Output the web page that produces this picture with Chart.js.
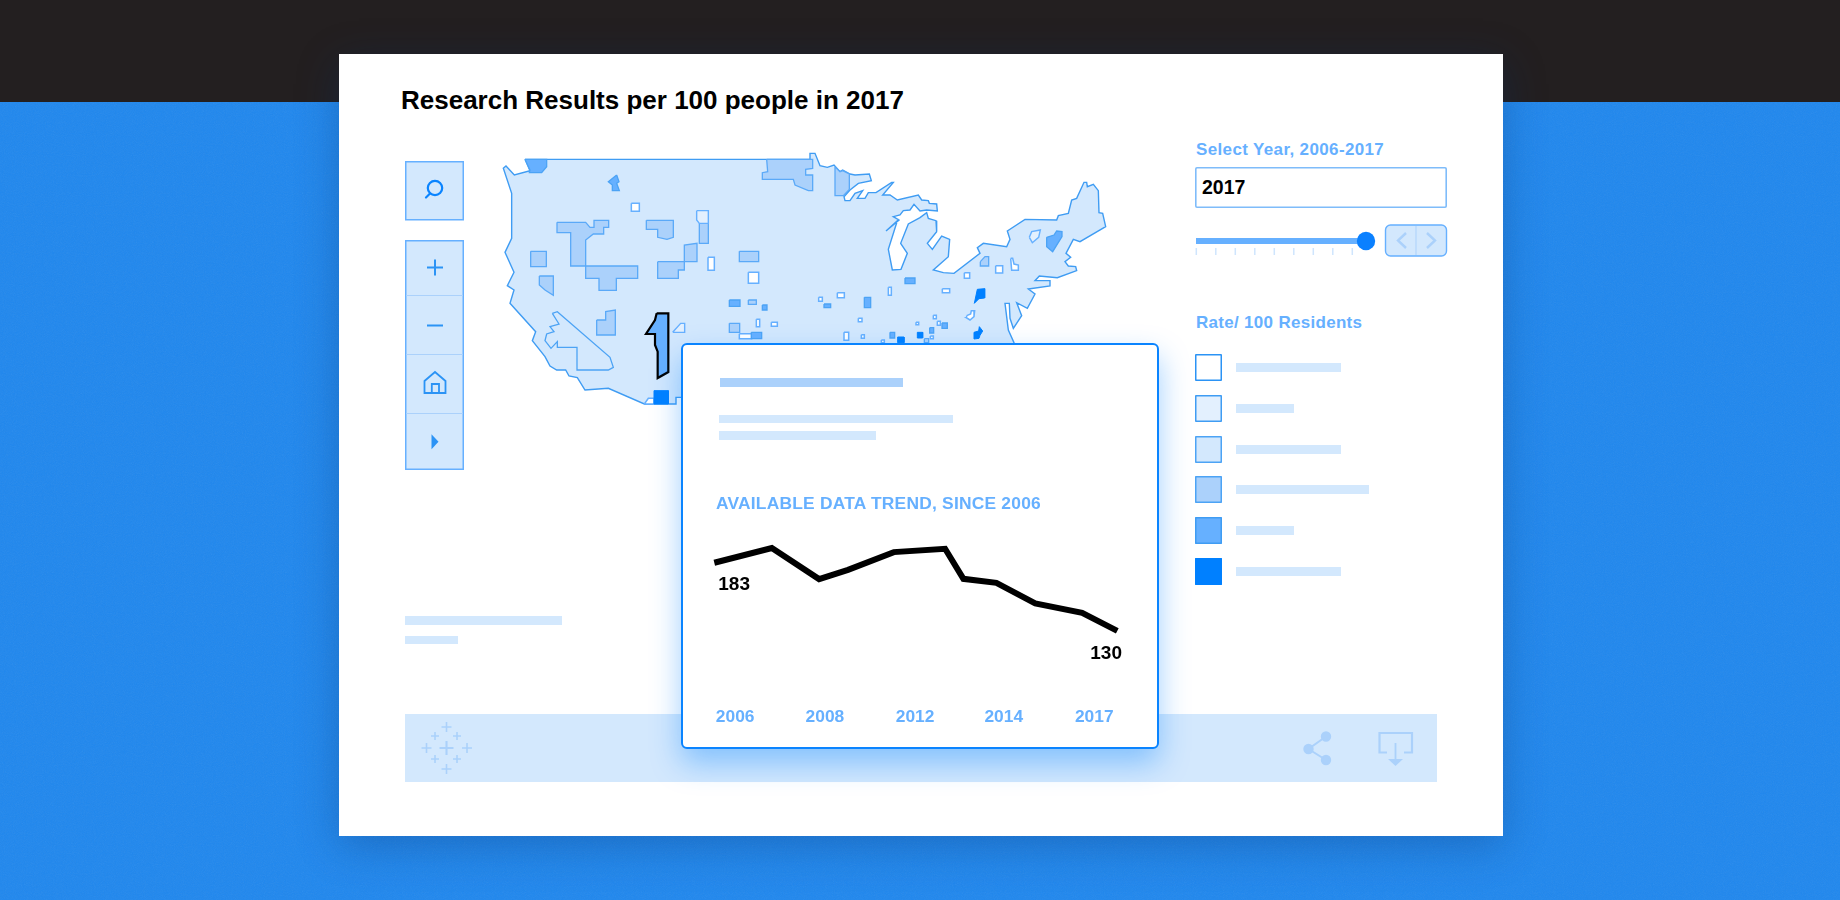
<!DOCTYPE html>
<html><head><meta charset="utf-8">
<script src="https://cdn.jsdelivr.net/npm/chart.js@4"></script>
<style>
html,body{margin:0;padding:0;width:1840px;height:900px;overflow:hidden;background:#1f87ee;font-family:"Liberation Sans",Arial,sans-serif;}
.abs{position:absolute;}
#bgnoise{left:0;top:0;width:1840px;height:900px;opacity:.09;}
#top{left:0;top:0;width:1840px;height:102px;background:#231f20;}
#card{left:339px;top:54px;width:1164px;height:782px;background:#fff;box-shadow:0 10px 40px rgba(10,50,110,.32);}
.t{position:absolute;white-space:nowrap;font-weight:700;line-height:1;}
.lb{color:#66b0ff;}
.bar{position:absolute;background:#d3e8fd;}
#popup{left:681px;top:342.5px;width:474px;height:402px;background:#fff;border:2px solid #0a84ff;border-radius:6px;box-shadow:0 14px 30px rgba(0,128,255,.38);z-index:5;}
canvas{display:block;}
</style></head><body>
<svg class="abs" id="bgnoise"><filter id="n"><feTurbulence type="fractalNoise" baseFrequency="1.1" numOctaves="2"/><feColorMatrix type="saturate" values="0"/></filter><rect width="1840" height="900" filter="url(#n)"/></svg>
<div class="abs" id="top"></div>
<div class="abs" id="card"></div>

<div class="t abs" style="left:401px;top:87px;font-size:26px;color:#000;" >Research Results per 100 people in 2017</div>

<svg class="abs" style="left:405px;top:161px;" width="60" height="310" viewBox="0 0 60 310">
 <g fill="#d3e8fd" stroke="#66b0ff" stroke-width="1.5"><rect x=".75" y=".75" width="57.5" height="58"/><rect x=".75" y="79.75" width="57.5" height="228.5"/></g>
 <g stroke="#abd1fb" stroke-width="1"><path d="M1 134.5H58M1 193.5H58M1 252.5H58"/></g>
 <circle cx="30" cy="27" r="7.2" fill="none" stroke="#0a84ff" stroke-width="2.2"/><path d="M25 32.5L21 36.5" stroke="#0a84ff" stroke-width="2.2" stroke-linecap="round"/>
 <path d="M22 106.5H38M30 98.5V114.5M22 164.5H38" stroke="#2b93f5" stroke-width="2" fill="none"/>
 <path d="M19.5 232V220L30 211L40.5 220V232ZM26.8 232V223H34V232" fill="none" stroke="#2b93f5" stroke-width="1.8"/>
 <path d="M26.5 273.3L33.5 280.8L26.5 288.3Z" fill="#2b93f5"/>
</svg>

<canvas id="map" class="abs" style="left:480px;top:140px;"></canvas>

<div class="bar" style="left:405px;top:616px;width:157px;height:9px"></div>
<div class="bar" style="left:405px;top:636px;width:53px;height:8px"></div>

<div class="t lb abs" style="left:1196px;top:141px;font-size:17px;letter-spacing:.36px;">Select Year, 2006-2017</div>
<div class="abs" style="left:1195px;top:167px;width:252px;height:41px;background:#fff;box-shadow:inset 0 0 0 1.6px #7fbcfa;border-radius:2px;"></div>
<div class="t abs" style="left:1202px;top:178px;font-size:19.5px;color:#000;">2017</div>
<svg class="abs" style="left:1190px;top:220px;" width="262" height="42">
 <rect x="6" y="18" width="170" height="6" fill="#66b0ff"/>
 <circle cx="176" cy="21" r="9.2" fill="#0a80ff"/>
 <g stroke="#cfe5fd" stroke-width="1.5"><path id="sliderTicks" d=""/></g>
 <rect x="195.5" y="5" width="61" height="31" rx="5" fill="#d3e8fd" stroke="#66b0ff" stroke-width="1.4"/>
 <path d="M226 6V35" stroke="#abd1fb"/>
 <path d="M216 13L208 20.5L216 28M237 13L245 20.5L237 28" fill="none" stroke="#abd1fb" stroke-width="2.4"/>
</svg>
<div class="t lb abs" style="left:1196px;top:314px;font-size:17px;letter-spacing:.3px;">Rate/ 100 Residents</div>
<div id="legend"></div>

<div class="bar abs" style="left:405px;top:714px;width:1032px;height:68px;"></div>
<svg class="abs" style="left:405px;top:714px;" width="1032" height="68">
 <g stroke="#abd1fb" fill="none" stroke-width="1.7" id="tabLogo"></g>
 <g stroke="#abd1fb" fill="#abd1fb" stroke-width="2">
  <path d="M921 22.5L903.5 35L921 46" fill="none"/><circle cx="921" cy="22.5" r="4.2"/><circle cx="903.5" cy="35" r="4.2"/><circle cx="921" cy="46" r="4.2"/>
 </g>
 <path d="M982 38.5H974.5V19H1007V38.5H999" fill="none" stroke="#abd1fb" stroke-width="2.2"/>
 <path d="M990.5 29V46" stroke="#abd1fb" stroke-width="1.8"/><path d="M983 45H998L990.5 52Z" fill="#abd1fb"/>
</svg>

<div class="abs" id="popup"></div>
<div class="bar" style="z-index:6;left:720px;top:378px;width:183px;height:9px;background:#abd1fb"></div>
<div class="bar" style="z-index:6;left:719px;top:415px;width:234px;height:8px"></div>
<div class="bar" style="z-index:6;left:719px;top:431px;width:157px;height:9px"></div>
<div class="t lb abs" style="z-index:6;left:716px;top:495px;font-size:17.4px;letter-spacing:.22px;">AVAILABLE DATA TREND, SINCE 2006</div>
<canvas id="trend" class="abs" style="left:690px;top:530px;z-index:6;"></canvas>

<script>
// ---- trend line data ----
const trendYears = [2006, 2007.57, 2008.86, 2009.65, 2010.9, 2012.3, 2012.8, 2013.7, 2014.76, 2016.04, 2017];
const trendValues = [183, 194.5, 170.3, 177.5, 191.3, 193.9, 170.5, 167.4, 151.4, 144, 130];
const trendTickLabels = ["2006", "2008", "2012", "2014", "2017"];
const trendTickSlots = [2006.57, 2009.02, 2011.48, 2013.9, 2016.37];

// ---- legend ----
const legendShades = ["#ffffff", "#e3f0fe", "#d3e8fd", "#abd1fb", "#66b0ff", "#0080ff"];
const legendBorders = ["#2b93f5", "#3f9cf3", "#4ca3f5", "#4ca3f5", "#3f9cf3", "#0080ff"];
const legendBarWidths = [105, 58, 105, 133, 58, 105];

// ---- map geometry (map units; eastern arrays use their own origin, see toEast) ----
const EAST_OFFSET = 915;
const outlineWestNorth = [[90,28]];
const outlineEast = [[30,28],[30,10],[45,10],[60,47],[82,52],[102,45],[120,65],[128,60],[150,72],[165,75],[208,72],[214,92],[175,100],[150,120],[132,140],[135,152],[150,152],[165,130],[188,122],[172,145],[195,145],[205,128],[228,128],[275,97],[280,97],[248,135],[270,135],[292,150],[355,135],[365,150],[385,152],[388,160],[410,162],[412,183],[380,180],[360,183],[342,163],[330,180],[310,182],[300,195],[280,200],[297,210],[258,243],[292,212],[265,298],[277,360],[303,358],[322,310],[302,280],[325,222],[360,203],[380,188],[385,205],[408,212],[410,245],[382,280],[397,298],[425,258],[449,268],[445,320],[400,360],[430,368],[462,370],[540,310],[532,293],[550,280],[620,290],[630,268],[622,243],[675,208],[770,210],[775,197],[805,190],[815,150],[830,145],[852,97],[860,97],[862,110],[880,103],[895,122],[897,188],[908,190],[917,230],[840,275],[820,268],[798,310],[812,322],[795,335],[805,348],[827,350],[830,362],[772,383],[718,378],[705,392],[750,392],[750,408],[685,417],[705,432],[682,475],[650,458],[665,497],[640,535],[630,505],[628,460],[615,460],[625,540],[642,578],[642,700]];
const outlineWestSouth = [[580,700],[560,742],[543,742],[543,762],[448,762],[340,715],[270,720],[247,683],[222,678],[212,660],[185,660],[165,648],[150,620],[112,572],[122,545],[45,460],[57,420],[37,407],[57,367],[30,307],[50,265],[50,130],[25,55],[33,48],[58,75],[105,62],[90,28]];
const interiorShape = [[172,490],[192,522],[165,530],[177,545],[155,552],[150,572],[168,595],[187,575],[187,592],[246,592],[246,660],[340,660],[355,652],[345,622],[187,485]];

const whiteWest = [[[409,160],[433,184]],[[639,322],[658,361]],[[760,367],[791,400]],[[733,551],[770,566]],[[784,508],[794,530]],[[829,517],[847,529]],[[448,762],[460,745],[477,745],[477,762]]];
const whiteEast = [[[112,428],[133,443]],[[56,442],[67,454]],[[265,412],[274,436]],[[427,416],[449,428]],[[493,368],[509,385]],[[587,347],[608,369]],[[175,505],[186,515]],[[132,547],[146,571]],[[184,554],[193,565]],[[244,570],[253,578]],[[348,517],[356,524]],[[400,496],[409,506]],[[412,514],[421,526]],[[391,558],[400,566]],
 [[632,325],[638,325],[642,342],[655,345],[655,361],[635,361]],
 [[500,497],[512,492],[514,482],[524,482],[522,500],[510,510],[499,503]]];
const paleWest = [[[605,182],[640,182],[640,220],[613,220],[605,210]],[[533,547],[557,520],[569,520],[569,547]]];
const paleEast = [[[688,262],[695,245],[721,240],[716,262],[697,278]]];
const midWest = [
 [[186,217],[272,217],[285,232],[297,232],[297,211],[341,211],[341,232],[326,232],[326,252],[295,252],[272,270],[272,348],[227,348],[227,248],[186,248]],
 [[272,348],[428,348],[428,385],[364,385],[364,421],[312,421],[312,385],[272,385]],
 [[454,211],[535,211],[535,262],[516,268],[488,262],[488,238],[454,238]],
 [[613,220],[640,220],[640,280],[613,280]],
 [[488,335],[568,335],[568,285],[606,280],[606,335],[568,335],[568,360],[550,360],[550,385],[488,385]],
 [[107,304],[154,350]],
 [[133,378],[175,378],[175,436],[150,420],[133,405]],
 [[733,304],[791,335]],
 [[305,510],[332,510],[332,485],[361,480],[361,555],[305,555]],
 [[815,28],[953,28],[953,55],[932,58],[932,75],[953,75],[953,122],[940,122],[900,105],[895,88],[802,88],[802,68],[818,65]],
 [[760,450],[784,463]],[[703,520],[734,547]]
];
const midEast = [
 [[105,50],[120,65],[128,62],[148,72],[148,118],[130,137],[105,137]],
 [[373,566],[386,578]],
 [[541,335],[555,320],[566,320],[566,348],[541,348]]
];
const strongWest = [
 [[90,28],[155,28],[155,50],[140,68],[103,68],[105,60]],
 [[365,75],[372,95],[365,100],[373,122],[353,122],[352,105],[340,95]],
 [[703,450],[735,469]],[[802,465],[816,480]],[[769,547],[800,566]]
];
const strongEast = [
 [[315,384],[345,401]],[[193,442],[212,473]],[[72,462],[92,473]],[[270,547],[284,564]],[[389,533],[401,549]],[[426,519],[442,535]],
 [[740,262],[762,255],[770,243],[786,245],[786,260],[758,305],[740,290]]
];
const deepWest = [[[477,722],[520,762]]];
const deepEast = [
 [[352,547],[368,564]],[[293,561],[312,578]],
 [[532,418],[554,416],[554,444],[537,446],[523,460]],
 [[522,547],[536,543],[538,530],[548,543],[540,556],[537,565],[522,567]]
];
const selectedRegion = [[485,490],[520,490],[520,666],[488,684],[488,605],[480,585],[480,552],[453,552],[480,510]];

// ---- static page furniture ----
const legendEl = document.getElementById('legend');
const legendTops = [354, 395, 436, 476, 517, 558];
legendShades.forEach((c,i)=>{
  const s=document.createElement('div');
  s.className='abs';
  s.style.cssText=`left:1195px;top:${legendTops[i]}px;width:27px;height:27px;background:${c};box-shadow:inset 0 0 0 1.5px ${legendBorders[i]};border-radius:1px;`;
  legendEl.appendChild(s);
  const b=document.createElement('div');
  b.className='bar';
  b.style.cssText=`left:1236px;top:${legendTops[i]+9}px;width:${legendBarWidths[i]}px;height:8.5px;`;
  legendEl.appendChild(b);
});
let d='';for(let i=0;i<9;i++){const x=6.3+i*19.5;d+=`M${x} 28V35`;}
document.getElementById('sliderTicks').setAttribute('d',d);
const plus=[[41.5,34,14,2.6],[41.5,13,10,2],[41.5,55,10,2],[30,22,8,2],[52,22,8,2],[30,45,8,2],[52,45,8,2],[21.5,34,10,2],[62,34,10,2]];
document.getElementById('tabLogo').innerHTML=plus.map(([x,y,s,w])=>`<path d="M${x-s/2} ${y}H${x+s/2}M${x} ${y-s/2}V${y+s/2}" stroke-width="${w*.8}"/>`).join('');

// ---- map chart ----
const toEast = ps => ps.map(([x,y])=>[x+EAST_OFFSET,y]);
const expandRect = p => p.length===2 ? [p[0],[p[1][0],p[0][1]],p[1],[p[0][0],p[1][1]]] : p;
const ring = p => { const q=expandRect(p); return q.concat([q[0]]).map(([x,y])=>({x,y})); };
const mapDatasets=[];
function add(p,fill,stroke,w){
  mapDatasets.push({data:ring(p),showLine:true,fill:'shape',backgroundColor:fill,borderColor:stroke,borderWidth:w,pointRadius:0,tension:0,clip:false,parsing:false,borderJoinStyle:'miter'});
}
const nationOutline=[...outlineWestNorth,...toEast(outlineEast),...outlineWestSouth];
add(nationOutline,'#d3e8fd','#3f9cf3',1.4);
add(interiorShape,'#d3e8fd','#4ca3f5',1.3);
[...midWest,...midEast.map(toEast)].forEach(p=>add(p,'#abd1fb','#5aa9f8',1.3));
[...whiteWest,...whiteEast.map(toEast)].forEach(p=>add(p,'#ffffff','#66b0ff',1.5));
[...paleWest,...paleEast.map(toEast)].forEach(p=>add(p,'#e3f0fe','#66b0ff',1.4));
[...strongWest,...strongEast.map(toEast)].forEach(p=>add(p,'#66b0ff','#4ca3f5',1.3));
[...deepWest,...deepEast.map(toEast)].forEach(p=>add(p,'#0080ff','#0080ff',1));
add(selectedRegion,'#66b0ff','#000000',2.2);
mapDatasets.reverse();
const mapCv=document.getElementById('map');mapCv.width=640;mapCv.height=280;
new Chart(mapCv,{type:'scatter',data:{datasets:mapDatasets},options:{responsive:false,animation:false,events:[],
 layout:{padding:0},plugins:{legend:{display:false},tooltip:{enabled:false}},
 scales:{x:{type:'linear',display:false,min:-45,max:1875},y:{type:'linear',display:false,min:-30,max:810,reverse:true}}}});

// ---- trend chart ----
const endLabels={id:'endLabels',afterDatasetsDraw(c){
  const pts=c.getDatasetMeta(0).data,ctx=c.ctx;
  ctx.save();ctx.fillStyle='#000';ctx.font='700 19px "Liberation Sans"';ctx.textBaseline='middle';ctx.textAlign='left';
  ctx.fillText(String(trendValues[0]),pts[0].x+4,pts[0].y+21.5);
  const n=pts.length-1;ctx.fillText(String(trendValues[n]),pts[n].x-27,pts[n].y+22.5);
  ctx.restore();
}};
const trCv=document.getElementById('trend');trCv.width=450;trCv.height=200;
new Chart(trCv,{type:'line',data:{datasets:[{data:trendYears.map((x,i)=>({x,y:trendValues[i]})),borderColor:'#000',borderWidth:6,pointRadius:0,tension:0,fill:false,clip:false,borderJoinStyle:'miter',borderCapStyle:'butt'}]},
 plugins:[endLabels],
 options:{responsive:false,animation:false,events:[],layout:{padding:{left:24.3,right:22.7,top:0,bottom:0}},
 plugins:{legend:{display:false},tooltip:{enabled:false}},
 scales:{
  x:{type:'linear',min:2006,max:2017,grid:{display:false},border:{display:false},
    afterFit(s){s.height=40;},
    afterBuildTicks(s){s.ticks=trendTickSlots.map(value=>({value}));},
    ticks:{autoSkip:false,maxRotation:0,minRotation:0,padding:9,color:'#66b0ff',font:{family:'"Liberation Sans"',weight:'700',size:17.4},
      callback(v){return trendTickLabels[trendTickSlots.indexOf(v)];}}},
  y:{display:false,min:84,max:208.5}
 }}});
</script>
</body></html>
